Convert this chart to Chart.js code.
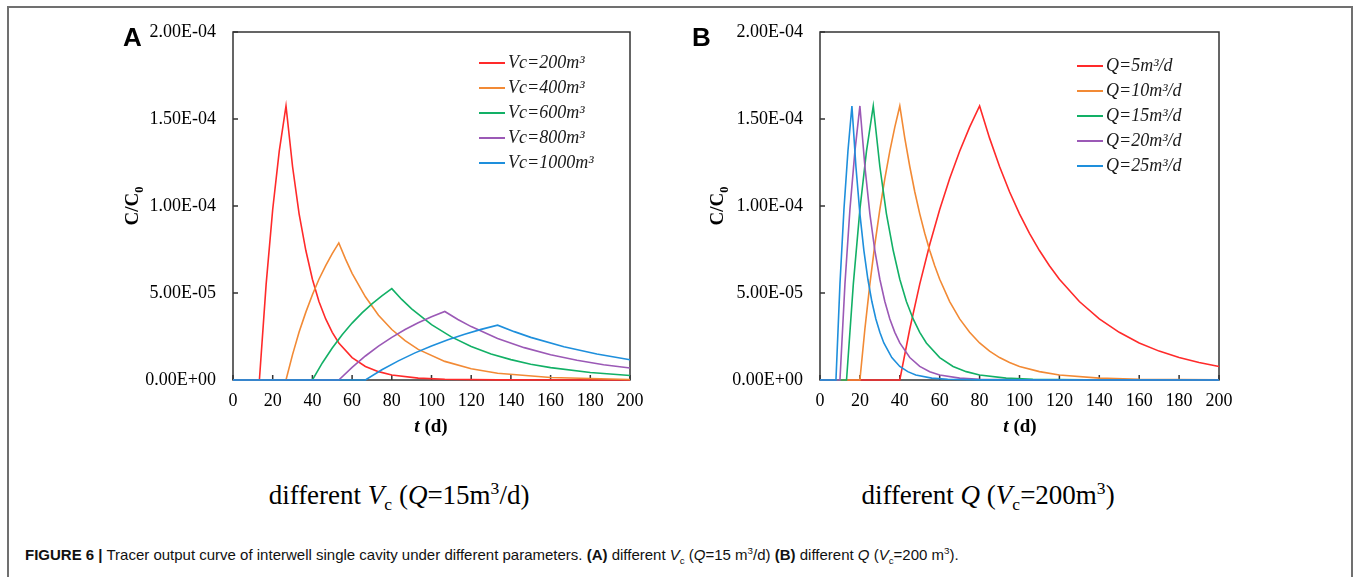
<!DOCTYPE html>
<html>
<head>
<meta charset="utf-8">
<script src="https://cdn.jsdelivr.net/npm/chart.js@4.4.1/dist/chart.umd.min.js"></script>
<style>
  body { margin: 0; width: 1356px; height: 577px; background: #fff; position: relative; overflow: hidden; font-family: "Liberation Serif", serif; color: #000; }
  .frame { position: absolute; left: 7px; top: 6px; width: 1346px; height: 640px; border: 2px solid #707070; box-sizing: border-box; }
  canvas { position: absolute; top: 0; }
  #chartA { left: 100px; }
  #chartB { left: 690px; }
  .panel { position: absolute; top: 24px; font: bold 26px/26px "Liberation Sans", Arial, sans-serif; }
  .center { position: absolute; white-space: nowrap; transform: translate(-50%, -50%); }
  .ytitle { font: bold 19px "Liberation Serif"; transform: translate(-50%, -50%) rotate(-90deg); }
  .xtitle { font: bold 19px "Liberation Serif"; }
  .sub { font: 27px "Liberation Serif"; }
  sub, sup { font-size: 0.65em; line-height: 0; }
  .caption { position: absolute; left: 25px; top: 546px; font: 15px "Liberation Sans", Arial, sans-serif; white-space: nowrap; color: #111; }
</style>
</head>
<body>
<div class="frame"></div>
<canvas id="chartA" width="560" height="440"></canvas>
<canvas id="chartB" width="560" height="440"></canvas>

<div class="panel" style="left:123px">A</div>
<div class="panel" style="left:692px">B</div>
<div class="center ytitle" style="left:132px; top:206px">C/C<sub>0</sub></div>
<div class="center ytitle" style="left:717px; top:206px">C/C<sub>0</sub></div>
<div class="center xtitle" style="left:431px; top:426px"><i>t</i> (d)</div>
<div class="center xtitle" style="left:1020px; top:426px"><i>t</i> (d)</div>
<div class="center sub" style="left:399px; top:495px">different <i>V</i><sub>c</sub> (<i>Q</i>=15m<sup>3</sup>/d)</div>
<div class="center sub" style="left:988px; top:495px">different <i>Q</i> (<i>V</i><sub>c</sub>=200m<sup>3</sup>)</div>
<div class="caption"><b>FIGURE 6 |</b> Tracer output curve of interwell single cavity under different parameters. <b>(A)</b> different <i>V</i><sub>c</sub> (<i>Q</i>=15 m<sup>3</sup>/d) <b>(B)</b> different <i>Q</i> (<i>V</i><sub>c</sub>=200 m<sup>3</sup>).</div>

<script>
// t in days, C/C0 in units of 1e-5

// panel A : Q = 15 m3/d
const tVc200 = [0, 13.3, 16.7, 20.0, 23.3, 26.7, 30.0, 33.3, 36.7, 40.0, 43.3, 46.7, 50.0, 53.3, 60.0, 66.7, 73.3, 80.0, 93.3, 106.7, 133.3, 200];
const cVc200 = [0, 0, 5.51, 9.80, 13.15, 15.75, 12.27, 9.55, 7.44, 5.79, 4.51, 3.51, 2.74, 2.13, 1.29, 0.78, 0.48, 0.29, 0.11, 0.04, 0.005, 0];
const tVc400 = [0, 26.7, 30.0, 33.3, 36.7, 40.0, 43.3, 46.7, 50.0, 53.3, 56.7, 60.0, 66.7, 73.3, 80.0, 86.7, 93.3, 106.7, 120.0, 133.3, 160.0, 200];
const cVc400 = [0, 0, 1.46, 2.76, 3.90, 4.90, 5.79, 6.57, 7.26, 7.88, 6.95, 6.13, 4.78, 3.72, 2.90, 2.26, 1.76, 1.07, 0.65, 0.39, 0.14, 0.03];
const tVc600 = [0, 40, 45, 50, 55, 60, 65, 70, 75, 80, 85, 90, 100, 110, 120, 130, 140, 150, 160, 180, 200];
const cVc600 = [0, 0, 0.98, 1.84, 2.60, 3.27, 3.86, 4.38, 4.84, 5.25, 4.63, 4.09, 3.18, 2.48, 1.93, 1.50, 1.17, 0.91, 0.71, 0.43, 0.26];
const tVc800 = [0, 53.3, 60.0, 66.7, 73.3, 80.0, 86.7, 93.3, 100.0, 106.7, 113.3, 120.0, 133.3, 146.7, 160.0, 173.3, 186.7, 200];
const cVc800 = [0, 0, 0.73, 1.38, 1.95, 2.45, 2.90, 3.29, 3.64, 3.94, 3.48, 3.07, 2.39, 1.86, 1.45, 1.13, 0.88, 0.69];
const tVc1000 = [0, 66.7, 75.0, 83.3, 91.7, 100.0, 108.3, 116.7, 125.0, 133.3, 141.7, 150.0, 166.7, 183.3, 200];
const cVc1000 = [0, 0, 0.59, 1.10, 1.56, 1.96, 2.32, 2.63, 2.91, 3.15, 2.78, 2.45, 1.91, 1.49, 1.16];

// panel B : Vc = 200 m3
const tQ5 = [0, 40, 45, 50, 55, 60, 65, 70, 75, 80, 85, 90, 95, 100, 105, 110, 115, 120, 130, 140, 150, 160, 170, 180, 190, 200];
const cQ5 = [0, 0, 2.93, 5.51, 7.79, 9.80, 11.58, 13.15, 14.53, 15.75, 13.90, 12.27, 10.82, 9.55, 8.43, 7.44, 6.57, 5.79, 4.51, 3.51, 2.74, 2.13, 1.66, 1.29, 1.01, 0.78];
const tQ10 = [0, 20, 22.5, 25, 27.5, 30, 32.5, 35, 37.5, 40, 42.5, 45, 47.5, 50, 52.5, 55, 57.5, 60, 65, 70, 75, 80, 85, 90, 95, 100, 110, 120, 140, 160, 200];
const cQ10 = [0, 0, 2.93, 5.51, 7.79, 9.80, 11.58, 13.15, 14.53, 15.75, 13.90, 12.27, 10.82, 9.55, 8.43, 7.44, 6.57, 5.79, 4.51, 3.51, 2.74, 2.13, 1.66, 1.29, 1.01, 0.78, 0.48, 0.29, 0.11, 0.04, 0.005];
// Q=15 with Vc=200 is the same run as the first curve of panel A
const tQ15 = tVc200;
const cQ15 = cVc200;
const tQ20 = [0, 10, 12.5, 15, 17.5, 20, 22.5, 25, 27.5, 30, 32.5, 35, 37.5, 40, 45, 50, 55, 60, 70, 80, 100, 200];
const cQ20 = [0, 0, 5.51, 9.80, 13.15, 15.75, 12.27, 9.55, 7.44, 5.79, 4.51, 3.51, 2.74, 2.13, 1.29, 0.78, 0.48, 0.29, 0.11, 0.04, 0.005, 0];
const tQ25 = [0, 8, 10, 12, 14, 16, 18, 20, 22, 24, 26, 28, 30, 32, 36, 40, 44, 48, 56, 64, 80, 200];
const cQ25 = [0, 0, 5.51, 9.80, 13.15, 15.75, 12.27, 9.55, 7.44, 5.79, 4.51, 3.51, 2.74, 2.13, 1.29, 0.78, 0.48, 0.29, 0.11, 0.04, 0.005, 0];

const labelsA = ['Vc=200m³', 'Vc=400m³', 'Vc=600m³', 'Vc=800m³', 'Vc=1000m³'];
const labelsB = ['Q=5m³/d', 'Q=10m³/d', 'Q=15m³/d', 'Q=20m³/d', 'Q=25m³/d'];
const colors = ['#ff2a2a', '#f28a35', '#12b066', '#9b59b6', '#1e8fdc'];

const xTicks = [0, 20, 40, 60, 80, 100, 120, 140, 160, 180, 200];
const yTicks = [0, 5e-5, 1e-4, 1.5e-4, 2e-4];

function sci(v) {
  if (Math.abs(v) < 1e-12) return '0.00E+00';
  const parts = v.toExponential(2).split('e');
  const n = parseInt(parts[1], 10);
  return parts[0] + 'E' + (n < 0 ? '-' : '+') + String(Math.abs(n)).padStart(2, '0');
}

function series(label, color, ts, cs, i) {
  return {
    label: label,
    data: ts.map((t, k) => ({ x: t, y: cs[k] * 1e-5 })),
    borderColor: color,
    borderWidth: 1.6,
    pointRadius: 0,
    tension: 0,
    fill: false,
    clip: false,
    order: 5 - i  // later series on top, like the original
  };
}

// plot box and inward tick marks, under the curves
const axisBox = {
  id: 'axisBox',
  beforeDatasetsDraw(chart) {
    const ctx = chart.ctx, a = chart.chartArea;
    const x = chart.scales.x, y = chart.scales.y;
    ctx.save();
    ctx.strokeStyle = '#333';
    ctx.lineWidth = 1.5;
    ctx.strokeRect(a.left, a.top, a.right - a.left, a.bottom - a.top);
    ctx.beginPath();
    x.ticks.forEach(t => {
      const px = x.getPixelForValue(t.value);
      ctx.moveTo(px, a.bottom); ctx.lineTo(px, a.bottom - 5);
    });
    y.ticks.forEach(t => {
      const py = y.getPixelForValue(t.value);
      ctx.moveTo(a.left, py); ctx.lineTo(a.left + 5, py);
    });
    ctx.stroke();
    ctx.restore();
  }
};

// legend sitting inside the plot, top right
const insideLegend = {
  id: 'insideLegend',
  afterDatasetsDraw(chart, args, opts) {
    const ctx = chart.ctx;
    ctx.save();
    ctx.font = 'italic 18px "Liberation Serif"';
    ctx.textBaseline = 'middle';
    chart.data.datasets.forEach((ds, i) => {
      const yy = opts.y + i * opts.gap;
      ctx.strokeStyle = ds.borderColor;
      ctx.lineWidth = 2;
      ctx.beginPath();
      ctx.moveTo(opts.x, yy);
      ctx.lineTo(opts.x + 26, yy);
      ctx.stroke();
      ctx.fillStyle = '#1a1a1a';
      ctx.fillText(ds.label, opts.x + 29, yy);
    });
    ctx.restore();
  }
};

function makeChart(id, datasets, yWidth, padRight, legend) {
  const tickFont = { family: '"Liberation Serif"', size: 18 };
  return new Chart(document.getElementById(id), {
    type: 'line',
    data: { datasets: datasets },
    options: {
      responsive: false,
      animation: false,
      devicePixelRatio: 1,
      layout: { padding: { top: 32, right: padRight, bottom: 0, left: 0 } },
      plugins: { legend: { display: false }, tooltip: { enabled: false }, insideLegend: legend },
      scales: {
        x: {
          type: 'linear', min: 0, max: 200,
          afterBuildTicks: s => { s.ticks = xTicks.map(v => ({ value: v })); },
          grid: { display: false, drawTicks: false },
          border: { display: false },
          ticks: { font: tickFont, color: '#000', padding: 10, maxRotation: 0, autoSkip: false },
          afterFit: s => { s.height = 60; }
        },
        y: {
          type: 'linear', min: 0, max: 2e-4,
          afterBuildTicks: s => { s.ticks = yTicks.map(v => ({ value: v })); },
          grid: { display: false, drawTicks: false },
          border: { display: false },
          ticks: { font: tickFont, color: '#000', padding: 17, callback: v => sci(v) },
          afterFit: s => { s.width = yWidth; }
        }
      }
    },
    plugins: [axisBox, insideLegend]
  });
}

const setA = [[tVc200, cVc200], [tVc400, cVc400], [tVc600, cVc600], [tVc800, cVc800], [tVc1000, cVc1000]];
const setB = [[tQ5, cQ5], [tQ10, cQ10], [tQ15, cQ15], [tQ20, cQ20], [tQ25, cQ25]];

makeChart('chartA', setA.map((s, i) => series(labelsA[i], colors[i], s[0], s[1], i)), 133, 30, { x: 379, y: 63, gap: 25 });
makeChart('chartB', setB.map((s, i) => series(labelsB[i], colors[i], s[0], s[1], i)), 130, 31, { x: 387, y: 66, gap: 25 });
</script>
</body>
</html>
